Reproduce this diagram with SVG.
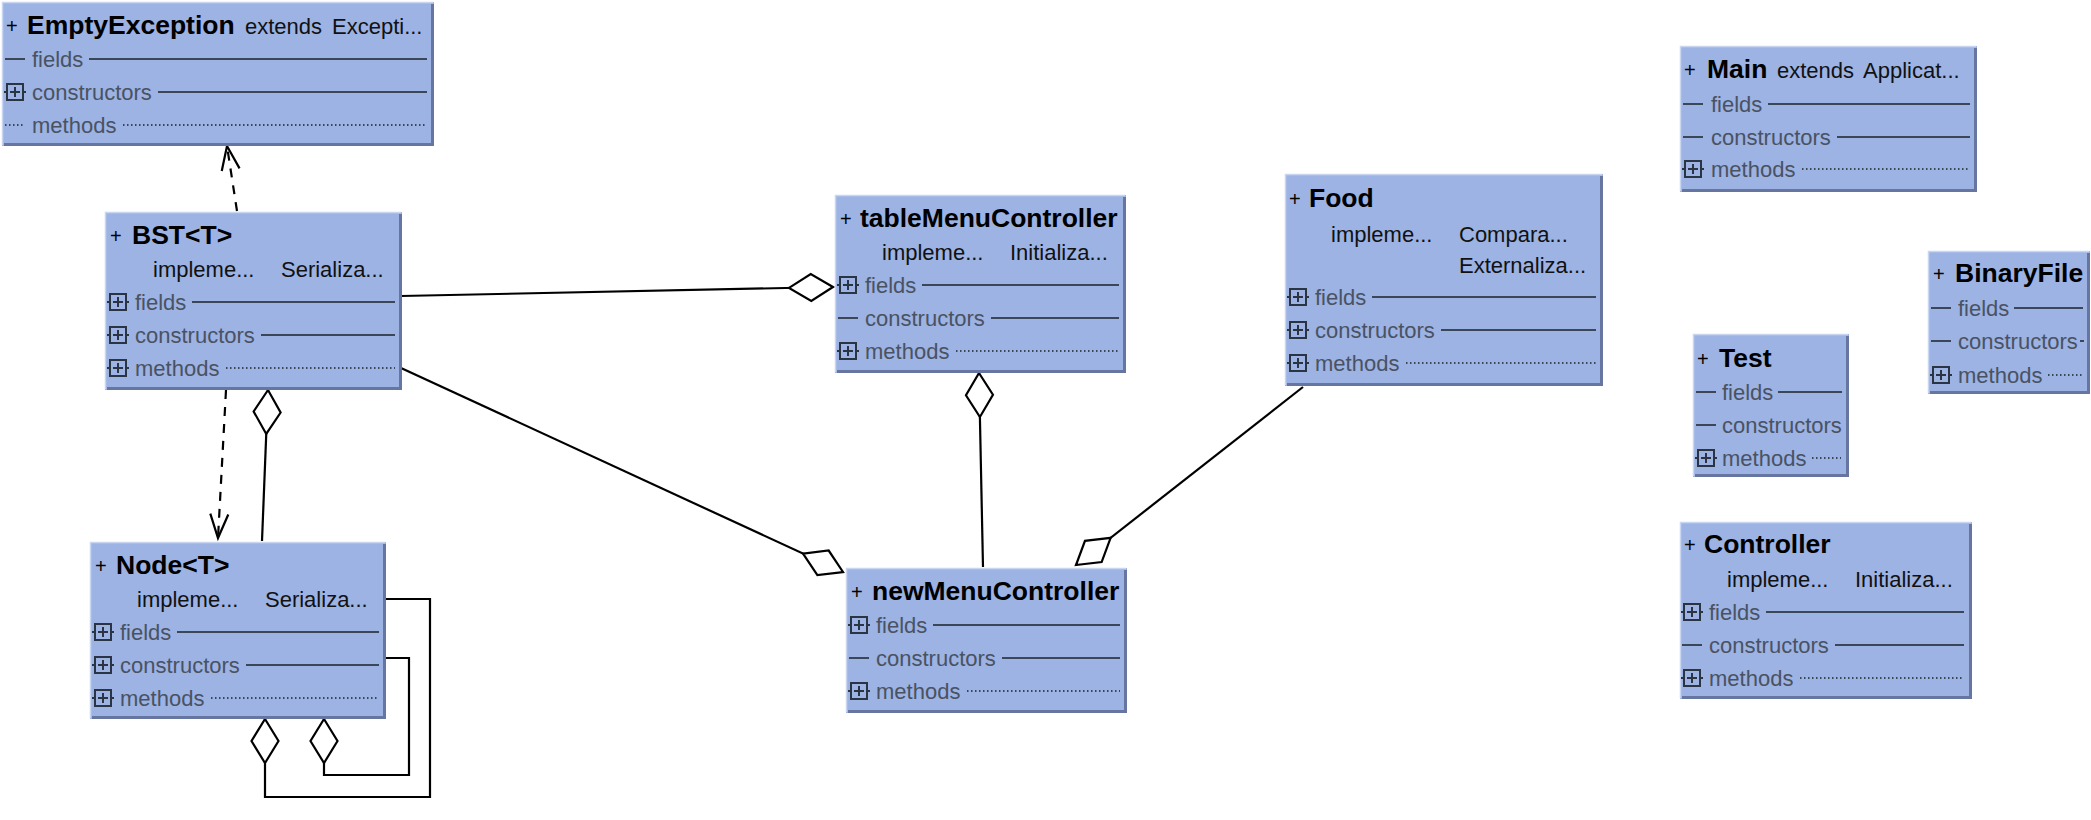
<svg xmlns="http://www.w3.org/2000/svg" xmlns:xlink="http://www.w3.org/1999/xlink" width="2091" height="820" viewBox="0 0 2091 820">
<style>
.bg{fill:#fff}
.box{fill:#9cb3e4}
.sh{fill:none;stroke:#6676a0;stroke-width:3}
.hl{fill:none;stroke:#c9d6f2;stroke-width:1.5}
text{font-family:"Liberation Sans",Arial,sans-serif}
.t{font-size:26.5px;font-weight:bold;fill:#000}
.pl{font-size:20px;fill:#000}
.h{font-size:22px;fill:#111}
.r{font-size:22px;fill:#4a5262}
.sep{stroke:#3b4757;stroke-width:2;fill:none}
.dot{stroke:#3b4757;stroke-width:2;stroke-dasharray:1.5 2.5;fill:none}
.ic{fill:none;stroke:#2a3442;stroke-width:2}
.con{fill:none;stroke:#000;stroke-width:2.2}
.dash{stroke-dasharray:9 8}
.agg{marker-end:url(#dia)}
.dep{marker-end:url(#arr)}
</style>
<defs>
<g id="plus"><rect class="ic" x="-8" y="-8" width="16" height="16"/><path class="ic" d="M-5,0H5M0,-5V5M-11,0H-8M8,0H11"/></g>
<path id="dashi" class="sep" d="M-10,0H10"/>
<path id="doti" class="dot" d="M-10,0H10"/>
<marker id="dia" markerUnits="userSpaceOnUse" markerWidth="50" markerHeight="34" viewBox="-47 -17 50 34" refX="0" refY="0" orient="auto" overflow="visible"><path d="M0,0 L-22,-13.5 L-44,0 L-22,13.5 Z" fill="#fff" stroke="#000" stroke-width="2.2" stroke-linejoin="miter"/></marker>
<marker id="arr" markerUnits="userSpaceOnUse" markerWidth="30" markerHeight="24" viewBox="-28 -12 30 24" refX="0" refY="0" orient="auto" overflow="visible"><path d="M-24,-9 L0,0 L-24,9" fill="none" stroke="#000" stroke-width="2.2"/></marker>
</defs>
<rect class="bg" x="0" y="0" width="2091" height="820"/>

<g id="connectors">
<path class="con dash dep" d="M237,211 L227,146"/>
<path class="con dash dep" d="M226,390 L218,538"/>
<path class="con agg" d="M262,541 L268,390"/>
<path class="con agg" d="M401,296 L833,287"/>
<path class="con agg" d="M401,368 L843,572"/>
<path class="con agg" d="M983,567 L979,373"/>
<path class="con agg" d="M1303,387 L1076,565"/>
<path class="con agg" d="M386,599 H430 V797 H265 V719"/>
<path class="con agg" d="M386,658 H409 V775 H324 V719"/>
</g>

<g id="EmptyException">
<rect class="box" x="2" y="2" width="432" height="144"/>
<path class="hl" d="M2.5,145 V2.5 H433"/>
<path class="sh" d="M432.5,4 V144.5 H4"/>
<text class="pl" x="6" y="33">+</text>
<text class="t" x="27" y="34">EmptyException</text>
<text class="h" x="245" y="34">extends</text>
<text class="h" x="332" y="34">Excepti...</text>
<use xlink:href="#dashi" x="15" y="59"/>
<text class="r" x="32" y="67">fields</text>
<path class="sep" d="M89,59H427"/>
<use xlink:href="#plus" x="15" y="92"/>
<text class="r" x="32" y="100">constructors</text>
<path class="sep" d="M158,92H427"/>
<use xlink:href="#doti" x="15" y="125"/>
<text class="r" x="32" y="133">methods</text>
<path class="dot" d="M123,125H427"/>
</g>

<g id="BST">
<rect class="box" x="105" y="212" width="297" height="178"/>
<path class="hl" d="M105.5,389 V212.5 H401"/>
<path class="sh" d="M400.5,214 V388.5 H107"/>
<text class="pl" x="110" y="243">+</text>
<text class="t" x="132" y="244">BST&lt;T&gt;</text>
<text class="h" x="153" y="277">impleme...</text>
<text class="h" x="281" y="277">Serializa...</text>
<use xlink:href="#plus" x="118" y="302"/>
<text class="r" x="135" y="310">fields</text>
<path class="sep" d="M192,302H395"/>
<use xlink:href="#plus" x="118" y="335"/>
<text class="r" x="135" y="343">constructors</text>
<path class="sep" d="M261,335H395"/>
<use xlink:href="#plus" x="118" y="368"/>
<text class="r" x="135" y="376">methods</text>
<path class="dot" d="M226,368H395"/>
</g>

<g id="Node">
<rect class="box" x="90" y="542" width="296" height="177"/>
<path class="hl" d="M90.5,718 V542.5 H385"/>
<path class="sh" d="M384.5,544 V717.5 H92"/>
<text class="pl" x="95" y="573">+</text>
<text class="t" x="116" y="574">Node&lt;T&gt;</text>
<text class="h" x="137" y="607">impleme...</text>
<text class="h" x="265" y="607">Serializa...</text>
<use xlink:href="#plus" x="103" y="632"/>
<text class="r" x="120" y="640">fields</text>
<path class="sep" d="M177,632H379"/>
<use xlink:href="#plus" x="103" y="665"/>
<text class="r" x="120" y="673">constructors</text>
<path class="sep" d="M246,665H379"/>
<use xlink:href="#plus" x="103" y="698"/>
<text class="r" x="120" y="706">methods</text>
<path class="dot" d="M211,698H379"/>
</g>

<g id="tableMenuController">
<rect class="box" x="835" y="195" width="291" height="178"/>
<path class="hl" d="M835.5,372 V195.5 H1125"/>
<path class="sh" d="M1124.5,197 V371.5 H837"/>
<text class="pl" x="840" y="226">+</text>
<text class="t" x="860" y="227">tableMenuController</text>
<text class="h" x="882" y="260">impleme...</text>
<text class="h" x="1010" y="260">Initializa...</text>
<use xlink:href="#plus" x="848" y="285"/>
<text class="r" x="865" y="293">fields</text>
<path class="sep" d="M922,285H1119"/>
<use xlink:href="#dashi" x="848" y="318"/>
<text class="r" x="865" y="326">constructors</text>
<path class="sep" d="M991,318H1119"/>
<use xlink:href="#plus" x="848" y="351"/>
<text class="r" x="865" y="359">methods</text>
<path class="dot" d="M956,351H1119"/>
</g>

<g id="newMenuController">
<rect class="box" x="846" y="568" width="281" height="145"/>
<path class="hl" d="M846.5,712 V568.5 H1126"/>
<path class="sh" d="M1125.5,570 V711.5 H848"/>
<text class="pl" x="851" y="599">+</text>
<text class="t" x="872" y="600">newMenuController</text>
<use xlink:href="#plus" x="859" y="625"/>
<text class="r" x="876" y="633">fields</text>
<path class="sep" d="M933,625H1120"/>
<use xlink:href="#dashi" x="859" y="658"/>
<text class="r" x="876" y="666">constructors</text>
<path class="sep" d="M1002,658H1120"/>
<use xlink:href="#plus" x="859" y="691"/>
<text class="r" x="876" y="699">methods</text>
<path class="dot" d="M967,691H1120"/>
</g>

<g id="Food">
<rect class="box" x="1285" y="174" width="318" height="212"/>
<path class="hl" d="M1285.5,385 V174.5 H1602"/>
<path class="sh" d="M1601.5,176 V384.5 H1287"/>
<text class="pl" x="1289" y="206">+</text>
<text class="t" x="1309" y="207">Food</text>
<text class="h" x="1331" y="242">impleme...</text>
<text class="h" x="1459" y="242">Compara...</text>
<text class="h" x="1459" y="273">Externaliza...</text>
<use xlink:href="#plus" x="1298" y="297"/>
<text class="r" x="1315" y="305">fields</text>
<path class="sep" d="M1372,297H1596"/>
<use xlink:href="#plus" x="1298" y="330"/>
<text class="r" x="1315" y="338">constructors</text>
<path class="sep" d="M1441,330H1596"/>
<use xlink:href="#plus" x="1298" y="363"/>
<text class="r" x="1315" y="371">methods</text>
<path class="dot" d="M1406,363H1596"/>
</g>

<g id="Main">
<rect class="box" x="1680" y="46" width="297" height="146"/>
<path class="hl" d="M1680.5,191 V46.5 H1976"/>
<path class="sh" d="M1975.5,48 V190.5 H1682"/>
<text class="pl" x="1684" y="77">+</text>
<text class="t" x="1707" y="78">Main</text>
<text class="h" x="1777" y="78">extends</text>
<text class="h" x="1863" y="78">Applicat...</text>
<use xlink:href="#dashi" x="1693" y="104"/>
<text class="r" x="1711" y="112">fields</text>
<path class="sep" d="M1768,104H1970"/>
<use xlink:href="#dashi" x="1693" y="137"/>
<text class="r" x="1711" y="145">constructors</text>
<path class="sep" d="M1837,137H1970"/>
<use xlink:href="#plus" x="1693" y="169"/>
<text class="r" x="1711" y="177">methods</text>
<path class="dot" d="M1802,169H1970"/>
</g>

<g id="BinaryFile">
<rect class="box" x="1928" y="251" width="162" height="143"/>
<path class="hl" d="M1928.5,393 V251.5 H2089"/>
<path class="sh" d="M2088.5,253 V392.5 H1930"/>
<text class="pl" x="1933" y="281">+</text>
<text class="t" x="1955" y="282">BinaryFile</text>
<use xlink:href="#dashi" x="1941" y="308"/>
<text class="r" x="1958" y="316">fields</text>
<path class="sep" d="M2014,308H2083"/>
<use xlink:href="#dashi" x="1941" y="341"/>
<text class="r" x="1958" y="349">constructors</text>
<path class="sep" d="M2080,341H2084"/>
<use xlink:href="#plus" x="1941" y="375"/>
<text class="r" x="1958" y="383">methods</text>
<path class="dot" d="M2048,375H2082"/>
</g>

<g id="Test">
<rect class="box" x="1693" y="334" width="156" height="143"/>
<path class="hl" d="M1693.5,476 V334.5 H1848"/>
<path class="sh" d="M1847.5,336 V475.5 H1695"/>
<text class="pl" x="1697" y="366">+</text>
<text class="t" x="1719" y="367">Test</text>
<use xlink:href="#dashi" x="1706" y="392"/>
<text class="r" x="1722" y="400">fields</text>
<path class="sep" d="M1778,392H1842"/>
<use xlink:href="#dashi" x="1706" y="425"/>
<text class="r" x="1722" y="433">constructors</text>
<use xlink:href="#plus" x="1706" y="458"/>
<text class="r" x="1722" y="466">methods</text>
<path class="dot" d="M1812,458H1841"/>
</g>

<g id="Controller">
<rect class="box" x="1680" y="522" width="292" height="177"/>
<path class="hl" d="M1680.5,698 V522.5 H1971"/>
<path class="sh" d="M1970.5,524 V697.5 H1682"/>
<text class="pl" x="1684" y="552">+</text>
<text class="t" x="1704" y="553">Controller</text>
<text class="h" x="1727" y="587">impleme...</text>
<text class="h" x="1855" y="587">Initializa...</text>
<use xlink:href="#plus" x="1692" y="612"/>
<text class="r" x="1709" y="620">fields</text>
<path class="sep" d="M1766,612H1964"/>
<use xlink:href="#dashi" x="1692" y="645"/>
<text class="r" x="1709" y="653">constructors</text>
<path class="sep" d="M1835,645H1964"/>
<use xlink:href="#plus" x="1692" y="678"/>
<text class="r" x="1709" y="686">methods</text>
<path class="dot" d="M1800,678H1964"/>
</g>
</svg>
